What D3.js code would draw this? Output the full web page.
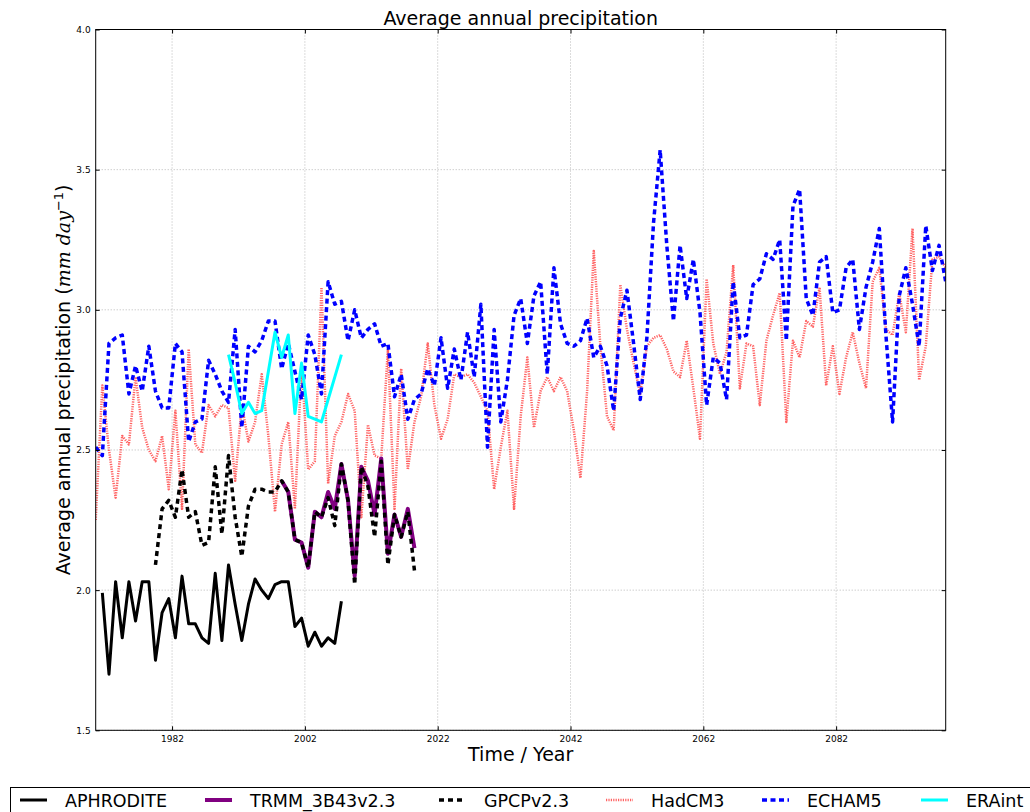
<!DOCTYPE html>
<html>
<head>
<meta charset="utf-8">
<script src="https://cdn.jsdelivr.net/npm/d3@7"></script>
<style>
  html, body { margin: 0; padding: 0; background: #fff; }
  svg { display: block; }
  text { font-family: "DejaVu Sans", sans-serif; }
</style>
</head>
<body>
<div id="chart"></div>
<script>
// ---------------- DATA ----------------
const xTickYears = [1982, 2002, 2022, 2042, 2062, 2082];
const yTickValues = [1.5, 2.0, 2.5, 3.0, 3.5, 4.0];

const aphroditeStart = 1971;
const aphrodite = [1.99, 1.70, 2.03, 1.83, 2.03, 1.89, 2.03, 2.03, 1.75, 1.92, 1.97, 1.83, 2.05, 1.88, 1.88, 1.83, 1.81, 2.06, 1.82, 2.09, 1.95, 1.82, 1.95, 2.04, 2.00, 1.97, 2.02, 2.03, 2.03, 1.87, 1.90, 1.80, 1.85, 1.80, 1.83, 1.81, 1.96];

const trmmStart = 1998;
const trmm = [2.39, 2.35, 2.18, 2.17, 2.08, 2.28, 2.26, 2.35, 2.29, 2.45, 2.32, 2.05, 2.44, 2.39, 2.27, 2.47, 2.13, 2.27, 2.19, 2.29, 2.15];

const gpcpStart = 1979;
const gpcp = [2.09, 2.29, 2.32, 2.26, 2.43, 2.26, 2.28, 2.16, 2.17, 2.44, 2.20, 2.48, 2.26, 2.12, 2.30, 2.36, 2.36, 2.35, 2.35, 2.39, 2.35, 2.18, 2.17, 2.08, 2.28, 2.26, 2.33, 2.23, 2.45, 2.32, 2.02, 2.44, 2.37, 2.19, 2.46, 2.09, 2.27, 2.19, 2.28, 2.07];

const hadcm3Start = 1970;
const hadcm3 = [2.25, 2.73, 2.50, 2.33, 2.55, 2.52, 2.76, 2.58, 2.50, 2.46,
  2.55, 2.36, 2.64, 2.29, 2.86, 2.52, 2.49, 2.66, 2.62, 2.66,
  2.65, 2.39, 2.66, 2.53, 2.60, 2.77, 2.55, 2.28, 2.52, 2.60,
  2.29, 2.80, 2.43, 2.46, 3.08, 2.38, 2.55, 2.60, 2.70, 2.64,
  2.26, 2.59, 2.48, 2.47, 2.86, 2.29, 2.79, 2.43, 2.60, 2.69,
  2.88, 2.66, 2.54, 2.61, 2.77, 2.76, 2.77, 2.74, 2.69, 2.64,
  2.36, 2.51, 2.64, 2.29, 2.62, 2.83, 2.58, 2.71, 2.76, 2.71,
  2.76, 2.71, 2.57, 2.40, 2.71, 3.21, 2.87, 2.62, 2.57, 3.09,
  2.93, 2.81, 2.70, 2.87, 2.90, 2.91, 2.86, 2.78, 2.76, 2.89,
  2.72, 2.54, 3.11, 2.88, 2.77, 2.85, 3.16, 2.72, 2.88, 2.87,
  2.66, 2.89, 2.98, 3.06, 2.60, 2.89, 2.83, 2.96, 2.94, 3.08,
  2.73, 2.87, 2.70, 2.83, 2.92, 2.81, 2.72, 3.10, 3.15, 2.93,
  2.91, 3.06, 2.92, 3.29, 2.75, 2.87, 3.18, 3.19, 3.15];

const echam5Start = 1970;
const echam5 = [2.51, 2.48, 2.88, 2.90, 2.91, 2.70, 2.80, 2.71, 2.87, 2.71,
  2.65, 2.65, 2.88, 2.85, 2.53, 2.60, 2.61, 2.82, 2.77, 2.71,
  2.67, 2.93, 2.58, 2.87, 2.85, 2.89, 2.96, 2.96, 2.79, 2.88,
  2.78, 2.68, 2.91, 2.84, 2.70, 3.10, 3.02, 3.03, 2.89, 3.00,
  2.90, 2.93, 2.95, 2.87, 2.88, 2.69, 2.77, 2.61, 2.68, 2.70,
  2.79, 2.73, 2.90, 2.72, 2.86, 2.75, 2.92, 2.76, 3.02, 2.51,
  2.93, 2.60, 2.75, 2.98, 3.04, 2.88, 3.05, 3.10, 2.77, 3.15,
  2.95, 2.88, 2.87, 2.89, 2.97, 2.83, 2.87, 2.80, 2.64, 2.97,
  3.07, 2.88, 2.68, 2.90, 3.31, 3.57, 3.23, 2.96, 3.23, 3.04,
  3.18, 2.99, 2.66, 2.83, 2.81, 2.68, 3.10, 2.90, 2.91, 3.09,
  3.11, 3.20, 3.18, 3.25, 2.89, 3.37, 3.43, 3.04, 2.98, 3.17,
  3.19, 2.99, 3.00, 3.15, 3.18, 2.93, 3.08, 3.17, 3.29, 2.91,
  2.60, 3.05, 3.15, 3.02, 2.87, 3.30, 3.14, 3.23, 3.10];

const eraintStart = 1990;
const eraint = [2.84, 2.74, 2.63, 2.67, 2.63, 2.64, 2.78, 2.92, 2.83, 2.91, 2.63, 2.81, 2.62, 2.61, 2.60, 2.68, 2.76, 2.84];

const seriesNames = ["APHRODITE", "TRMM_3B43v2.3", "GPCPv2.3", "HadCM3", "ECHAM5", "ERAint"];

// ---------------- LAYOUT ----------------
const W = 1030, H = 812;
const plot = { left: 95.7, right: 945.7, top: 29.5, bottom: 730.3 };
const legendLineX = [20, 205, 439, 606, 762, 921];   // legend column starts (layout)

const svg = d3.select("#chart").append("svg").attr("width", W).attr("height", H);

const x = d3.scaleLinear().domain([1970.5, 2098.5]).range([plot.left, plot.right]);
const y = d3.scaleLinear().domain([1.5, 4.0]).range([plot.bottom, plot.top]);

// grid
const grid = svg.append("g");
xTickYears.forEach(t => {
  grid.append("line").attr("x1", x(t)).attr("x2", x(t)).attr("y1", plot.top).attr("y2", plot.bottom)
    .attr("stroke", "#b8b8b8").attr("stroke-width", 1).attr("stroke-dasharray", "1,2");
});
yTickValues.forEach(v => {
  grid.append("line").attr("x1", plot.left).attr("x2", plot.right).attr("y1", y(v)).attr("y2", y(v))
    .attr("stroke", "#b8b8b8").attr("stroke-width", 1).attr("stroke-dasharray", "1,2");
});

// clip
svg.append("defs").append("clipPath").attr("id", "clip").append("rect")
  .attr("x", plot.left).attr("y", plot.top).attr("width", plot.right - plot.left).attr("height", plot.bottom - plot.top);

function toPts(start, vals) { return vals.map((v, i) => ({ t: start + i + 0.5, v })); }
const line = d3.line().x(d => x(d.t)).y(d => y(d.v));

const series = [
  { name: "HadCM3", data: toPts(hadcm3Start, hadcm3), color: "#ff2020", width: 2.5, dash: "1.2,1.2", opacity: 0.7 },
  { name: "ECHAM5", data: toPts(echam5Start, echam5), color: "#0000ff", width: 3.5, dash: "5,3.5", opacity: 1 },
  { name: "ERAint", data: toPts(eraintStart, eraint), color: "#00ffff", width: 3, dash: null, opacity: 1 },
  { name: "APHRODITE", data: toPts(aphroditeStart, aphrodite), color: "#000000", width: 3, dash: null, opacity: 1 },
  { name: "TRMM_3B43v2.3", data: toPts(trmmStart, trmm), color: "#800080", width: 4, dash: null, opacity: 1 },
  { name: "GPCPv2.3", data: toPts(gpcpStart, gpcp), color: "#000000", width: 3.5, dash: "5,4", opacity: 1 }
];

const lines = svg.append("g").attr("clip-path", "url(#clip)");
series.forEach(s => {
  lines.append("path").datum(s.data).attr("d", line)
    .attr("fill", "none").attr("stroke", s.color).attr("stroke-width", s.width)
    .attr("stroke-opacity", s.opacity)
    .attr("stroke-dasharray", s.dash).attr("stroke-linejoin", "round");
});

// axes frame
svg.append("rect").attr("x", plot.left).attr("y", plot.top)
  .attr("width", plot.right - plot.left).attr("height", plot.bottom - plot.top)
  .attr("fill", "none").attr("stroke", "#000").attr("stroke-width", 1);

// axes with inward ticks
const xAxis = d3.axisBottom(x).tickValues(xTickYears).tickFormat(d3.format("d")).tickSize(-4).tickPadding(5);
const gx = svg.append("g").attr("transform", `translate(0,${plot.bottom})`).call(xAxis);
gx.select(".domain").remove();
gx.selectAll("text").attr("font-size", 9).attr("font-family", "DejaVu Sans").attr("fill", "#000");
const gxTop = svg.append("g").attr("transform", `translate(0,${plot.top})`).call(d3.axisTop(x).tickValues(xTickYears).tickSize(-4).tickFormat(""));
gxTop.select(".domain").remove();

const yAxis = d3.axisLeft(y).tickValues(yTickValues).tickFormat(d3.format(".1f")).tickSize(-4).tickPadding(5);
const gy = svg.append("g").attr("transform", `translate(${plot.left},0)`).call(yAxis);
gy.select(".domain").remove();
gy.selectAll("text").attr("font-size", 9).attr("font-family", "DejaVu Sans").attr("fill", "#000");
const gyR = svg.append("g").attr("transform", `translate(${plot.right},0)`).call(d3.axisRight(y).tickValues(yTickValues).tickSize(-4).tickFormat(""));
gyR.select(".domain").remove();

// title
svg.append("text").attr("x", (plot.left + plot.right) / 2).attr("y", 25)
  .attr("text-anchor", "middle").attr("font-size", 19).text("Average annual precipitation");

// x label
svg.append("text").attr("x", (plot.left + plot.right) / 2).attr("y", 761)
  .attr("text-anchor", "middle").attr("font-size", 19).text("Time / Year");

// y label
const yl = svg.append("text").attr("transform", `translate(70,${(plot.top + plot.bottom) / 2}) rotate(-90)`)
  .attr("text-anchor", "middle").attr("font-size", 19);
yl.append("tspan").text("Average annual precipitation (");
yl.append("tspan").attr("font-family", "DejaVu Serif").attr("font-style", "italic").text("mm day");
yl.append("tspan").attr("font-size", 13).attr("dy", -7).text("\u22121");
yl.append("tspan").attr("dy", 7).text(")");

// legend
const lg = svg.append("g");
lg.append("rect").attr("x", 10.5).attr("y", 787.5).attr("width", 1040).attr("height", 40)
  .attr("fill", "#fff").attr("stroke", "#000").attr("stroke-width", 1);
const legendStyle = {
  "APHRODITE": series[3], "TRMM_3B43v2.3": series[4], "GPCPv2.3": series[5],
  "HadCM3": series[0], "ECHAM5": series[1], "ERAint": series[2]
};
seriesNames.forEach((name, i) => {
  const s = legendStyle[name];
  const lx = legendLineX[i];
  lg.append("line").attr("x1", lx).attr("x2", lx + 27).attr("y1", 800).attr("y2", 800)
    .attr("stroke", s.color).attr("stroke-width", s.width).attr("stroke-opacity", s.opacity)
    .attr("stroke-dasharray", s.dash);
  lg.append("text").attr("x", lx + 45).attr("y", 806.5).attr("font-size", 17.5).text(name);
});
</script>
</body>
</html>
